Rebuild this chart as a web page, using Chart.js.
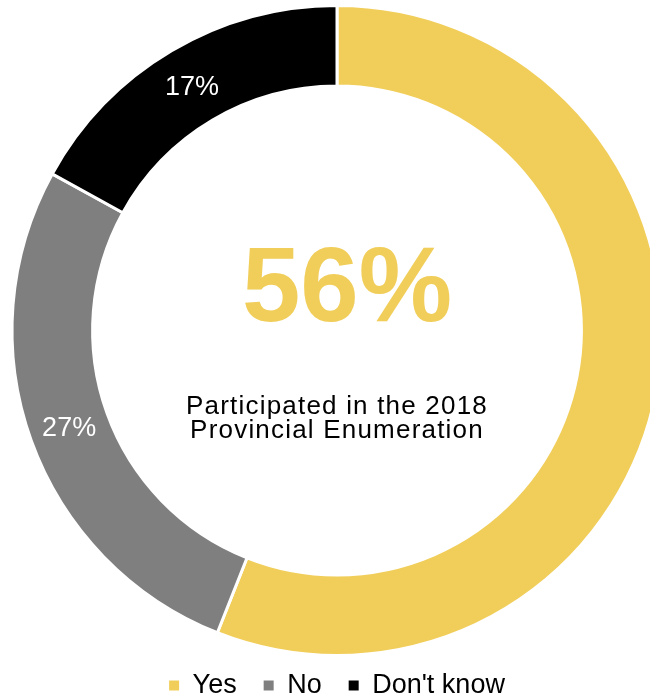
<!DOCTYPE html>
<html>
<head>
<meta charset="utf-8">
<script src="https://cdn.jsdelivr.net/npm/chart.js@4.4.0/dist/chart.umd.min.js"></script>
<style>
    html, body { margin: 0; padding: 0; background: #fff; overflow: hidden; }
    canvas { display: block; }
</style>
</head>
<body>
<canvas id="donut" width="674" height="709"></canvas>
<script>
const categories = ['Yes', 'No', "Don't know"];
const shares = [56, 27, 17];
const sliceColours = ['#F1CE5A', '#7F7F7F', '#000000'];
const centreIndex = 0; // this share goes in the middle instead of on its slice
const caption = ['Participated in the 2018', 'Provincial Enumeration'];

const labelFont = '"Liberation Sans", Arial, sans-serif';

// percentages on the ring + big number in the hole
const ringText = {
    id: 'ringText',
    afterDatasetsDraw(chart) {
        const ctx = chart.ctx;
        const meta = chart.getDatasetMeta(0);
        ctx.save();
        ctx.textAlign = 'center';
        ctx.textBaseline = 'middle';
        ctx.fillStyle = '#ffffff';
        ctx.font = '27px ' + labelFont;
        meta.data.forEach((arc, i) => {
            if (i === centreIndex) return;
            const pos = arc.tooltipPosition();
            ctx.fillText(shares[i] + '%', pos.x, pos.y + 2);
        });

        const c = meta.data[0];
        const cx = c.x, cy = c.y;
        ctx.textBaseline = 'alphabetic';
        ctx.fillStyle = sliceColours[centreIndex];
        ctx.font = 'bold 105px ' + labelFont;
        ctx.fillText(shares[centreIndex] + '%', cx + 10, cy - 10);

        ctx.fillStyle = '#000000';
        ctx.font = '26px ' + labelFont;
        ctx.letterSpacing = '1.2px';
        ctx.fillText(caption[0], cx, cy + 83);
        ctx.fillText(caption[1], cx, cy + 107);
        ctx.restore();
    }
};

const baseLabels = Chart.overrides.doughnut.plugins.legend.labels.generateLabels;

new Chart(document.getElementById('donut'), {
    type: 'doughnut',
    data: {
        labels: categories,
        datasets: [{
            data: shares,
            backgroundColor: sliceColours,
            borderColor: '#ffffff',
            borderWidth: 3
        }]
    },
    options: {
        responsive: false,
        animation: false,
        events: [],
        radius: 325,
        cutout: '75.2%',
        layout: { padding: { top: 16 } },
        plugins: {
            tooltip: { enabled: false },
            legend: {
                position: 'bottom',
                labels: {
                    boxWidth: 10,
                    boxHeight: 10,
                    padding: 27,
                    color: '#000000',
                    font: { size: 27, family: labelFont },
                    generateLabels: chart => baseLabels(chart).map(item => {
                        item.lineWidth = 0;
                        return item;
                    })
                }
            }
        }
    },
    plugins: [ringText]
});
</script>
</body>
</html>
